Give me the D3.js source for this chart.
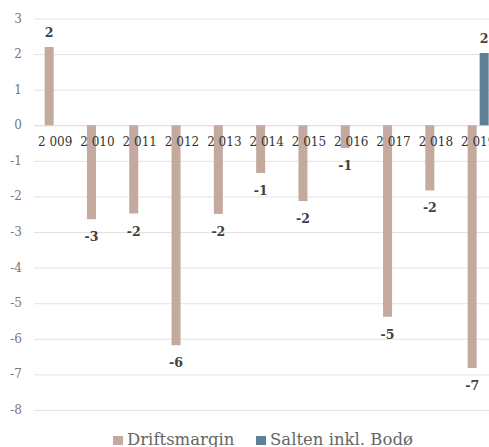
<!DOCTYPE html>
<html>
<head>
<meta charset="utf-8">
<script src="https://cdn.jsdelivr.net/npm/d3@7/dist/d3.min.js"></script>
<style>
  html, body { margin: 0; padding: 0; background: #fff; }
  svg { display: block; }
</style>
</head>
<body>
<svg id="chart" width="489" height="447"></svg>
<script>
const categories = ["2009","2010","2011","2012","2013","2014","2015","2016","2017","2018","2019"];
const categoryLabels = ["2 009","2 010","2 011","2 012","2 013","2 014","2 015","2 016","2 017","2 018","2 019"];
const seriesNames = ["Driftsmargin", "Salten inkl. Bodø"];
const driftsmargin = [2.2, -2.64, -2.48, -6.18, -2.49, -1.34, -2.13, -0.64, -5.38, -1.83, -6.82];
const salten = [null, null, null, null, null, null, null, null, null, null, 2.03];
const yTicks = [3, 2, 1, 0, -1, -2, -3, -4, -5, -6, -7, -8];
const colors = ["#c4a99f", "#5e7f96"];

const svg = d3.select("#chart");
const font = "'DejaVu Serif', serif";

const y = d3.scaleLinear().domain([-8, 3]).range([410, 18.5]);
const x0 = d3.scaleBand().domain(categories).range([34, 34 + 11 * 42.3]).padding(0);
const x1 = d3.scaleBand().domain(seriesNames).range([0, 21]).paddingInner(0.25);

// gridlines
svg.append("g").selectAll("line").data(yTicks).join("line")
  .attr("x1", 34).attr("x2", 489)
  .attr("y1", d => y(d) + 0.5).attr("y2", d => y(d) + 0.5)
  .attr("stroke", d => d === 0 ? "#d6d6d6" : "#e3e3e3")
  .attr("stroke-width", 1);

// y tick labels
svg.append("g").selectAll("text").data(yTicks).join("text")
  .attr("x", 22).attr("y", d => y(d) + 4)
  .attr("text-anchor", "end")
  .attr("font-family", font).attr("font-size", 12)
  .attr("fill", "#777")
  .text(d => d);

const data = [];
categories.forEach((c, i) => {
  data.push({cat: c, s: seriesNames[0], v: driftsmargin[i], color: colors[0]});
  if (salten[i] !== null) data.push({cat: c, s: seriesNames[1], v: salten[i], color: colors[1]});
});

const bx = d => x0(d.cat) + x0.bandwidth() / 2 - 10.5 + x1(d.s);

svg.append("g").selectAll("rect").data(data).join("rect")
  .attr("x", bx)
  .attr("width", x1.bandwidth())
  .attr("y", d => y(Math.max(0, d.v)))
  .attr("height", d => Math.abs(y(d.v) - y(0)))
  .attr("fill", d => d.color);

// x category labels
svg.append("g").selectAll("text").data(categories).join("text")
  .attr("x", d => x0(d) + x0.bandwidth() / 2)
  .attr("y", y(0) + 21)
  .attr("text-anchor", "middle")
  .attr("font-family", font).attr("font-size", 12)
  .attr("fill", "#333")
  .text((d, i) => categoryLabels[i]);

// data labels
svg.append("g").selectAll("text").data(data).join("text")
  .attr("x", d => bx(d) + x1.bandwidth() / 2)
  .attr("y", d => d.v >= 0 ? y(d.v) - 10 : y(d.v) + 22)
  .attr("text-anchor", "middle")
  .attr("font-family", font).attr("font-size", 12.5).attr("font-weight", "bold")
  .attr("fill", "#404040")
  .text(d => Math.round(d.v));

// legend
const legend = svg.append("g");
const legendX = [113, 256];
seriesNames.forEach((s, i) => {
  legend.append("rect").attr("x", legendX[i]).attr("y", 436).attr("width", 10).attr("height", 9).attr("fill", colors[i]);
  legend.append("text").attr("x", legendX[i] + 14).attr("y", 445)
    .attr("font-family", font).attr("font-size", 16.5).attr("fill", "#666").text(s);
});
</script>
</body>
</html>
